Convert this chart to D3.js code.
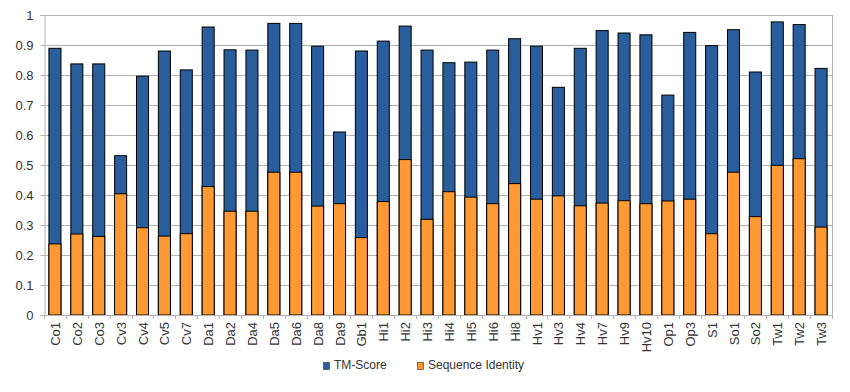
<!DOCTYPE html>
<html>
<head>
<meta charset="utf-8">
<script src="https://cdn.jsdelivr.net/npm/d3@7"></script>
<style>
  body { margin: 0; background: #fff; }
  svg { font-family: "Liberation Sans", Arial, sans-serif; }
</style>
</head>
<body>
<svg width="850" height="392"></svg>
<script>
// chart data
var names = ["Co1","Co2","Co3","Cv3","Cv4","Cv5","Cv7","Da1","Da2","Da4","Da5","Da6",
  "Da8","Da9","Gb1","Hi1","Hi2","Hi3","Hi4","Hi5","Hi6","Hi8","Hv1","Hv3",
  "Hv4","Hv7","Hv9","Hv10","Op1","Op3","S1","So1","So2","Tw1","Tw2","Tw3"];
var tmScore = [0.889,0.837,0.837,0.531,0.796,0.880,0.817,0.960,0.884,0.883,0.972,0.972,
  0.896,0.610,0.880,0.913,0.963,0.883,0.841,0.843,0.883,0.921,0.896,0.759,
  0.889,0.948,0.940,0.934,0.733,0.942,0.898,0.951,0.810,0.977,0.968,0.822];
var seqIdentity = [0.237,0.270,0.262,0.404,0.291,0.263,0.271,0.428,0.346,0.346,0.476,0.476,
  0.363,0.371,0.258,0.378,0.518,0.319,0.411,0.393,0.371,0.438,0.386,0.397,
  0.364,0.373,0.381,0.371,0.380,0.386,0.271,0.476,0.328,0.499,0.521,0.293];
var yTicks = [0,0.1,0.2,0.3,0.4,0.5,0.6,0.7,0.8,0.9,1];
var seriesNames = ["TM-Score", "Sequence Identity"];

var svg = d3.select("svg");
var plotLeft = 44, plotRight = 832, plotTop = 15, plotBottom = 315;

var x = d3.scaleBand().domain(names).range([plotLeft, plotRight]).paddingInner(0.45).paddingOuter(0.225);
var y = d3.scaleLinear().domain([0, 1]).range([plotBottom, plotTop]);
var color = d3.scaleOrdinal().domain(seriesNames).range(["#295d9b", "#ff9933"]);

// grid
svg.append("g")
  .selectAll("line")
  .data(yTicks)
  .enter().append("line")
    .attr("x1", plotLeft).attr("x2", plotRight)
    .attr("y1", function(d){ return Math.round(y(d)) + 0.5 })
    .attr("y2", function(d){ return Math.round(y(d)) + 0.5 })
    .attr("stroke", "#b3b3b3");

svg.append("line")
  .attr("x1", plotRight + 0.5).attr("x2", plotRight + 0.5)
  .attr("y1", plotTop).attr("y2", plotBottom)
  .attr("stroke", "#b3b3b3");

// y axis
var yAxis = svg.append("g")
  .attr("transform", "translate(" + (plotLeft + 0.5) + ",0)")
  .call(d3.axisLeft(y).tickValues(yTicks).tickSize(4).tickPadding(7)
    .tickFormat(function(d){ return d3.format("~g")(d) }));
yAxis.select(".domain").attr("stroke", "#b3b3b3");
yAxis.selectAll(".tick line").attr("stroke", "#b3b3b3");
yAxis.selectAll("text").style("font-size", "13px").attr("fill", "#333");

// bars: TM-score behind, sequence identity in front
var bars = svg.append("g");
bars.selectAll(".tm")
  .data(names)
  .enter().append("rect")
    .attr("class", "tm")
    .attr("x", function(d){ return x(d) })
    .attr("width", x.bandwidth())
    .attr("y", function(d, i){ return y(tmScore[i]) })
    .attr("height", function(d, i){ return y(0) - y(tmScore[i]) })
    .attr("fill", color("TM-Score"))
    .attr("stroke", "#000").attr("stroke-width", 1);

bars.selectAll(".si")
  .data(names)
  .enter().append("rect")
    .attr("class", "si")
    .attr("x", function(d){ return x(d) })
    .attr("width", x.bandwidth())
    .attr("y", function(d, i){ return y(seqIdentity[i]) })
    .attr("height", function(d, i){ return y(0) - y(seqIdentity[i]) })
    .attr("fill", color("Sequence Identity"))
    .attr("stroke", "#000").attr("stroke-width", 1);

// x axis
svg.append("line")
  .attr("x1", plotLeft).attr("x2", plotRight)
  .attr("y1", plotBottom + 0.5).attr("y2", plotBottom + 0.5)
  .attr("stroke", "#b3b3b3");

svg.append("g")
  .selectAll("line")
  .data(d3.range(names.length + 1))
  .enter().append("line")
    .attr("x1", function(i){ return Math.round(plotLeft + i * (plotRight - plotLeft) / names.length) + 0.5 })
    .attr("x2", function(i){ return Math.round(plotLeft + i * (plotRight - plotLeft) / names.length) + 0.5 })
    .attr("y1", plotBottom).attr("y2", plotBottom + 4)
    .attr("stroke", "#b3b3b3");

svg.append("g")
  .selectAll("text")
  .data(names)
  .enter().append("text")
    .attr("transform", function(d){
      return "translate(" + (x(d) + x.bandwidth() / 2 + 5) + "," + (plotBottom + 7) + ") rotate(-90)" })
    .attr("text-anchor", "end")
    .style("font-size", "13px")
    .attr("fill", "#333")
    .text(function(d){ return d });

// legend
var legend = svg.append("g");
var legendX = [323, 417];
seriesNames.forEach(function(s, i){
  legend.append("rect")
    .attr("x", legendX[i] + 0.5).attr("y", 362.5)
    .attr("width", 6).attr("height", 7)
    .attr("fill", color(s)).attr("stroke", "#333").attr("stroke-width", 0.6);
  legend.append("text")
    .attr("x", legendX[i] + 11).attr("y", 366)
    .attr("dominant-baseline", "middle")
    .style("font-size", "12px")
    .attr("fill", "#333")
    .text(s);
});
</script>
</body>
</html>
